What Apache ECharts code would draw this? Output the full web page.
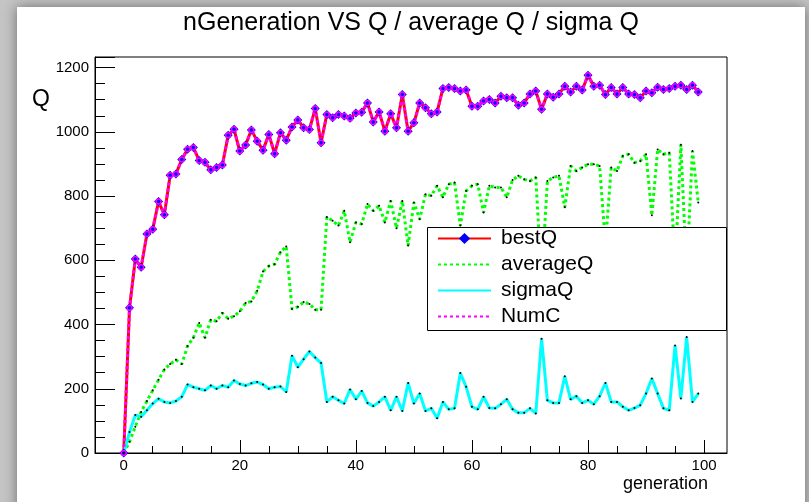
<!DOCTYPE html>
<html><head><meta charset="utf-8">
<script src="https://cdn.jsdelivr.net/npm/echarts@6/dist/echarts.min.js"></script>
<style>html,body{margin:0;padding:0;background:#c4c4c4}#c{width:809px;height:502px}</style>
</head><body><div id="c"></div><script>
const generations = [0,1,2,3,4,5,6,7,8,9,10,11,12,13,14,15,16,17,18,19,20,21,22,23,24,25,26,27,28,29,30,31,32,33,34,35,36,37,38,39,40,41,42,43,44,45,46,47,48,49,50,51,52,53,54,55,56,57,58,59,60,61,62,63,64,65,66,67,68,69,70,71,72,73,74,75,76,77,78,79,80,81,82,83,84,85,86,87,88,89,90,91,92,93,94,95,96,97,98,99];
const bestQ = [0,452,604,578,682,697,783,742,865,869,914,946,951,911,905,882,889,897,989,1008,940,959,1006,971,943,992,932,997,974,1015,1037,1013,1007,1073,966,1054,1044,1054,1049,1042,1059,1061,1090,1031,1062,1002,1056,1013,1116,1002,1028,1090,1075,1056,1062,1135,1138,1135,1127,1130,1080,1080,1096,1101,1090,1111,1106,1106,1083,1090,1118,1127,1070,1118,1108,1118,1142,1124,1142,1130,1176,1142,1145,1116,1138,1118,1138,1118,1116,1106,1127,1122,1139,1132,1135,1142,1145,1132,1145,1124];
const averageQ = [0,35,82,128,162,195,228,260,277,290,277,333,359,405,359,415,410,436,418,426,441,467,472,505,565,582,588,625,643,448,455,470,464,446,446,735,723,708,754,656,718,713,775,754,770,718,785,700,785,646,780,728,806,801,832,796,837,842,708,816,832,837,749,832,827,827,796,850,863,852,847,858,540,847,858,863,765,894,878,889,899,899,894,650,889,878,925,930,904,909,930,740,945,930,935,580,960,560,940,780];
const sigmaQ = [0,65,118,113,133,154,169,159,156,162,175,213,205,200,195,210,200,210,205,226,215,210,217,221,213,200,205,207,190,303,267,292,316,297,280,159,175,164,154,198,167,193,156,146,159,175,133,175,131,218,154,185,131,139,108,159,136,139,249,206,144,136,175,140,139,152,167,136,125,125,139,123,356,164,156,156,239,167,177,156,164,152,177,218,159,159,144,133,140,149,185,232,185,139,133,335,170,361,159,185];
const numC = [0,452,604,578,682,697,783,742,865,869,914,946,951,911,905,882,889,897,989,1008,940,959,1006,971,943,992,932,997,974,1015,1037,1013,1007,1073,966,1054,1044,1054,1049,1042,1059,1061,1090,1031,1062,1002,1056,1013,1116,1002,1028,1090,1075,1056,1062,1135,1138,1135,1127,1130,1080,1080,1096,1101,1090,1111,1106,1106,1083,1090,1118,1127,1070,1118,1108,1118,1142,1124,1142,1130,1176,1142,1145,1116,1138,1118,1138,1118,1116,1106,1127,1122,1139,1132,1135,1142,1145,1132,1145,1124];
const seriesNames = ['bestQ','averageQ','sigmaQ','NumC'];
const xMajorTicks = [0,20,40,60,80,100];
const xMinorTicks = [0,5,10,15,20,25,30,35,40,45,50,55,60,65,70,75,80,85,90,95,100];
const titleText = 'nGeneration VS Q / average Q / sigma Q';
const xTitle = 'generation';
const yTitle = 'Q';

function pairs(vals){ return generations.map((g,i)=>[g, vals[i]]); }
const FONT = '"Liberation Sans", Arial, Helvetica, sans-serif';
const chart = echarts.init(document.getElementById('c'), null, {renderer:'canvas'});
const xBase = {type:'value', min:-4.95, max:103.95, position:'bottom', splitLine:{show:false}};
chart.setOption({
  animation:false,
  backgroundColor:'#c4c4c4',
  grid:{left:95, top:57, width:632, height:396, show:true, borderColor:'#000', borderWidth:1, backgroundColor:'transparent'},
  xAxis:[
    Object.assign({}, xBase, {
      axisLine:{show:true, onZero:false, lineStyle:{color:'#000', width:1}},
      axisTick:{show:true, inside:true, length:13, customValues:xMajorTicks, lineStyle:{color:'#000'}},
      axisLabel:{show:true, customValues:xMajorTicks, margin:5, color:'#000', fontSize:15, fontFamily:FONT}
    }),
    Object.assign({}, xBase, {
      axisLine:{show:false, onZero:false},
      axisTick:{show:true, inside:true, length:7, customValues:xMinorTicks, lineStyle:{color:'#000'}},
      axisLabel:{show:false}
    })
  ],
  yAxis:{type:'value', min:0, max:1233, interval:200, splitLine:{show:false},
    axisLine:{show:true, onZero:false, lineStyle:{color:'#000'}},
    axisTick:{show:true, inside:true, length:20, lineStyle:{color:'#000'}},
    minorTick:{show:true, splitNumber:4, length:10, lineStyle:{color:'#000'}},
    axisLabel:{showMaxLabel:false, margin:6, color:'#000', fontSize:15, fontFamily:FONT, formatter:(v)=>String(v)}
  },
  legend:{
    left:437, top:228, orient:'vertical', padding:0, itemWidth:53, itemHeight:14, itemGap:5, z:101,
    textStyle:{fontSize:21, fontFamily:FONT, color:'#000', padding:[0,0,0,5]},
    data:[
      {name:seriesNames[0]},
      {name:seriesNames[1], itemStyle:{opacity:0}},
      {name:seriesNames[2], itemStyle:{opacity:0}},
      {name:seriesNames[3], itemStyle:{opacity:0}}
    ]
  },
  graphic:[
    {type:'rect', z:-100, shape:{x:17, y:7, width:788, height:520}, style:{fill:'#fff', shadowBlur:12, shadowColor:'rgba(0,0,0,0.45)'}},
    {type:'rect', z:100, shape:{x:427.5, y:227.5, width:299, height:103}, style:{fill:'#fff', stroke:'#000', lineWidth:1}},
    {type:'text', z:100, style:{text:titleText, x:411, y:23, textAlign:'center', textVerticalAlign:'middle', font:'25px '+FONT, fill:'#000'}},
    {type:'text', z:100, style:{text:yTitle, x:41, y:100, textAlign:'center', textVerticalAlign:'middle', font:'23px '+FONT, fill:'#000'}},
    {type:'text', z:100, style:{text:xTitle, x:708, y:484, textAlign:'right', textVerticalAlign:'middle', font:'18px '+FONT, fill:'#000'}}
  ],
  series:[
    {name:seriesNames[0], type:'line', data:pairs(bestQ), symbol:'diamond', symbolSize:9, showAllSymbol:true,
      itemStyle:{color:'#0000ff'}, lineStyle:{color:'#ff0000', width:3}},
    {name:seriesNames[1], type:'line', data:pairs(averageQ), symbol:'circle', symbolSize:2, showAllSymbol:true,
      itemStyle:{color:'#000'}, lineStyle:{color:'#00ff00', width:3, type:[3,3]}},
    {name:seriesNames[2], type:'line', data:pairs(sigmaQ), symbol:'circle', symbolSize:2, showAllSymbol:true,
      itemStyle:{color:'#000'}, lineStyle:{color:'#00ffff', width:3}},
    {name:seriesNames[3], type:'line', data:pairs(numC), symbol:'circle', symbolSize:5, showAllSymbol:true,
      itemStyle:{color:'rgba(0,0,0,0)', borderColor:'#ff00ff', borderWidth:1.5}, lineStyle:{color:'#ff00ff', width:3, type:[3,3]}}
  ]
});
</script></body></html>
